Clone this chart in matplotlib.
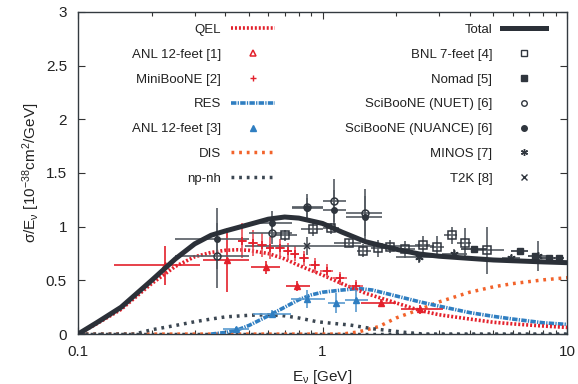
import numpy as np
import matplotlib
matplotlib.use("Agg")
import matplotlib.pyplot as plt
from matplotlib.lines import Line2D

plt.rcParams['font.family'] = ['Liberation Sans', 'DejaVu Sans']
plt.rcParams['mathtext.fontset'] = 'custom'
plt.rcParams['mathtext.rm'] = 'Liberation Sans'
plt.rcParams['mathtext.default'] = 'regular'

# ---------------- curves ----------------
E_total = [0.1, 0.12, 0.15, 0.2, 0.25, 0.3, 0.35, 0.4, 0.5, 0.6, 0.7, 0.8, 1.0, 1.2, 1.5, 2, 2.5, 3, 4, 5, 6, 8, 10]
total   = [0.0, 0.11, 0.25, 0.50, 0.70, 0.84, 0.92, 0.96, 1.02, 1.07, 1.09, 1.08, 1.03, 0.95, 0.86, 0.79, 0.745, 0.725, 0.705, 0.69, 0.683, 0.672, 0.665]

E_qel = [0.1, 0.12, 0.15, 0.2, 0.25, 0.3, 0.35, 0.4, 0.45, 0.5, 0.6, 0.7, 0.8, 1.0, 1.2, 1.5, 2, 2.5, 3, 4, 5, 6, 8, 10]
qel   = [0.0, 0.10, 0.23, 0.47, 0.63, 0.72, 0.76, 0.78, 0.785, 0.78, 0.75, 0.70, 0.64, 0.55, 0.47, 0.38, 0.29, 0.22, 0.18, 0.14, 0.11, 0.095, 0.075, 0.062]

E_res = [0.35, 0.4, 0.45, 0.5, 0.6, 0.7, 0.8, 0.9, 1.0, 1.2, 1.4, 1.6, 2.0, 2.5, 3, 4, 5, 6, 8, 10]
res   = [0.0, 0.015, 0.04, 0.08, 0.17, 0.25, 0.32, 0.365, 0.39, 0.41, 0.425, 0.41, 0.355, 0.30, 0.26, 0.20, 0.165, 0.14, 0.105, 0.09]

E_dis = [0.1, 1.2, 1.4, 1.7, 2.0, 2.5, 3, 4, 5, 6, 8, 10]
dis   = [0.0, 0.0, 0.02, 0.07, 0.15, 0.23, 0.30, 0.39, 0.44, 0.47, 0.505, 0.525]

E_npnh = [0.1, 0.17, 0.2, 0.25, 0.3, 0.35, 0.4, 0.5, 0.6, 0.7, 0.8, 0.95, 1.1, 1.3, 1.6, 1.8, 2.2, 2.6, 10]
npnh   = [0.0, 0.0, 0.04, 0.08, 0.115, 0.14, 0.16, 0.175, 0.18, 0.17, 0.15, 0.115, 0.10, 0.084, 0.05, 0.037, 0.015, 0.0, 0.0]

E_zero = [0.1, 10]
zero_line = [0.0, 0.0]

# ---------------- data ----------------
anl1_E   = [0.227, 0.406, 0.59, 0.79, 1.73, 2.5]
anl1_y   = [0.64, 0.69, 0.62, 0.447, 0.29, 0.23]
anl1_xlo = [0.14, 0.325, 0.51, 0.71, 1.43, 2.1]
anl1_xhi = [0.316, 0.50, 0.67, 0.89, 2.0, 3.1]
anl1_ye  = [0.18, 0.30, 0.06, 0.05, 0.04, 0.04]

mb_E  = [0.47, 0.52, 0.566, 0.61, 0.67, 0.72, 0.77, 0.84, 0.93, 1.04, 1.18, 1.37]
mb_y  = [0.87, 0.845, 0.83, 0.80, 0.80, 0.77, 0.75, 0.705, 0.643, 0.59, 0.52, 0.45]
mb_xe = [0.02, 0.025, 0.025, 0.025, 0.03, 0.03, 0.035, 0.04, 0.05, 0.06, 0.08, 0.1]
mb_ye = [0.16, 0.12, 0.11, 0.10, 0.09, 0.08, 0.07, 0.07, 0.07, 0.06, 0.06, 0.05]

anl3_E   = [0.443, 0.62, 0.86, 1.13, 1.37]
anl3_y   = [0.044, 0.19, 0.33, 0.29, 0.317]
anl3_xlo = [0.39, 0.52, 0.74, 1.05, 1.24]
anl3_xhi = [0.50, 0.74, 1.02, 1.24, 1.53]
anl3_ye  = [0.02, 0.03, 0.085, 0.09, 0.11]

bnl_E   = [0.70, 0.91, 1.08, 1.28, 1.47, 1.68, 1.89, 2.18, 2.58, 2.94, 3.38, 3.84, 4.7]
bnl_y   = [0.92, 0.975, 0.985, 0.85, 0.776, 0.80, 0.815, 0.79, 0.83, 0.815, 0.92, 0.85, 0.78]
bnl_xlo = [0.62, 0.82, 1.0, 1.11, 1.38, 1.58, 1.78, 2.0, 2.4, 2.75, 3.15, 3.55, 4.05]
bnl_xhi = [0.79, 1.0, 1.17, 1.43, 1.58, 1.78, 2.0, 2.4, 2.75, 3.15, 3.55, 4.05, 5.5]
bnl_ye  = [0.05, 0.06, 0.05, 0.04, 0.06, 0.08, 0.06, 0.08, 0.08, 0.10, 0.08, 0.14, 0.22]

nomad_E   = [4.17, 6.4, 7.4, 8.4, 9.3]
nomad_y   = [0.79, 0.77, 0.725, 0.705, 0.705]
nomad_xlo = [3.7, 5.9, 6.9, 7.9, 8.85]
nomad_xhi = [4.7, 6.9, 7.9, 8.9, 9.75]
nomad_ye  = [0.02, 0.02, 0.02, 0.02, 0.02]

sb_E      = [0.37, 0.62, 0.86, 1.11, 1.49]
sb_xlo    = [0.25, 0.5, 0.75, 1.0, 1.25]
sb_xhi    = [0.5, 0.75, 1.0, 1.25, 1.75]
nuet_y    = [0.73, 0.94, 1.18, 1.24, 1.13]
nuet_ye   = [0.30, 0.10, 0.12, 0.20, 0.22]
nuance_y  = [0.89, 1.03, 1.17, 1.16, 1.09]
nuance_ye = [0.28, 0.12, 0.10, 0.18, 0.20]

minos_E   = [2.47, 3.45, 5.9, 7.6]
minos_y   = [0.715, 0.75, 0.705, 0.73]
minos_xlo = [2.0, 3.07, 5.4, 7.0]
minos_xhi = [2.95, 3.9, 6.4, 8.2]
minos_ye  = [0.05, 0.04, 0.03, 0.14]

t2k_E   = [0.86]
t2k_y   = [0.82]
t2k_xlo = [0.48]
t2k_xhi = [2.85]
t2k_ye  = [0.085]

# ---------------- style ----------------
C_TOT = '#2b3038'
C_RED = '#e3202b'
C_BLUE = '#2f7ec1'
C_ORG = '#f2632b'
C_GRAY = '#3c4752'
C_DATA = '#30363e'

fig = plt.figure(figsize=(5.78, 3.84), dpi=100)
ax = fig.add_axes([0.135, 0.130, 0.846, 0.839])
ax.set_xscale('log')

ls_qel = (0, (0.55, 0.55))
ls_res = (0, (1.5, 0.35, 0.35, 0.35))
ls_dis = (0, (0.8, 1.4))
ls_np = (0, (0.8, 1.4))

ax.plot(E_zero, zero_line, color=C_GRAY, lw=2.5, ls=(0.9, (0.8, 1.4)), zorder=2)
ax.plot(E_dis, dis, color=C_ORG, lw=2.5, ls=ls_dis, zorder=2)
ax.plot(E_npnh, npnh, color=C_GRAY, lw=2.5, ls=ls_np, zorder=2)

def xe(E, lo, hi):
    E = np.asarray(E); return [E - np.asarray(lo), np.asarray(hi) - E]

ebkw = dict(ls='none', elinewidth=1.2, capsize=0)
ax.errorbar(anl1_E, anl1_y, xerr=xe(anl1_E, anl1_xlo, anl1_xhi), yerr=anl1_ye,
            marker='^', ms=5, color=C_RED, ecolor=C_RED, zorder=4, **ebkw)
ax.errorbar(mb_E, mb_y, xerr=mb_xe, yerr=mb_ye, marker='+', ms=6, mew=1.2,
            color=C_RED, ecolor='#ea4f58', zorder=4, **ebkw)
ax.errorbar(anl3_E, anl3_y, xerr=xe(anl3_E, anl3_xlo, anl3_xhi), yerr=anl3_ye,
            marker='^', ms=4, color=C_BLUE, ecolor='#5a9bd0', zorder=4, **ebkw)
ax.errorbar(sb_E, nuet_y, xerr=xe(sb_E, sb_xlo, sb_xhi), yerr=nuet_ye, marker='o', ms=5,
            mfc='none', mew=1.1, color=C_DATA, ecolor='#555b62', zorder=4, **ebkw)
ax.errorbar(sb_E, nuance_y, xerr=xe(sb_E, sb_xlo, sb_xhi), yerr=nuance_ye, marker='o', ms=4,
            color=C_DATA, ecolor='#555b62', zorder=4, **ebkw)
ax.errorbar(bnl_E, bnl_y, xerr=xe(bnl_E, bnl_xlo, bnl_xhi), yerr=bnl_ye, marker='s', ms=5.5,
            mfc='none', mew=1.1, color=C_DATA, ecolor='#555b62', zorder=4, **ebkw)
ax.errorbar(nomad_E, nomad_y, xerr=xe(nomad_E, nomad_xlo, nomad_xhi), yerr=nomad_ye, marker='s', ms=5,
            color=C_DATA, ecolor=C_DATA, zorder=4, **ebkw)
ax.errorbar(minos_E, minos_y, xerr=xe(minos_E, minos_xlo, minos_xhi), yerr=minos_ye, marker=(6, 2, 0), ms=6,
            mew=1.1, color=C_DATA, ecolor='#555b62', zorder=4, **ebkw)
ax.errorbar(t2k_E, t2k_y, xerr=xe(t2k_E, t2k_xlo, t2k_xhi), yerr=t2k_ye, marker='x', ms=5,
            mew=1.1, color=C_DATA, ecolor='#555b62', zorder=4, **ebkw)

ax.plot(E_res, res, color=C_BLUE, lw=2.6, ls=ls_res, zorder=3)
ax.plot(E_qel, qel, color=C_RED, lw=2.6, ls=ls_qel, zorder=3)
ax.plot(E_total, total, color=C_TOT, lw=3.6, solid_capstyle='round', zorder=5)

ax.set_xlim(0.1, 10)
ax.set_ylim(0, 3)
ax.set_xticks([0.1, 1, 10])
ax.set_xticklabels(['0.1', '1', '10'])
ax.xaxis.set_minor_formatter(matplotlib.ticker.NullFormatter())
ax.set_yticks([0, 0.5, 1, 1.5, 2, 2.5, 3])
ax.set_yticklabels(['0', '0.5', '1', '1.5', '2', '2.5', '3'])
ax.tick_params(which='both', direction='in', top=True, right=True, labelsize=11, color='#333', colors='#222')
ax.tick_params(which='major', length=5, width=0.8, pad=8)
ax.tick_params(which='minor', length=3, width=0.8)
for s in ax.spines.values():
    s.set_color('#333a40'); s.set_linewidth(1.0)

ax.set_xlabel('E$_{ν}$ [GeV]', fontsize=11, labelpad=6, color='#222')
ax.set_ylabel('σ/E$_{ν}$ [10$^{-38}$cm$^2$/GeV]', fontsize=11, labelpad=3, color='#222')

# ---------------- legends ----------------
h_left = [
    Line2D([], [], color=C_RED, lw=2.6, ls=ls_qel),
    Line2D([], [], ls='none', marker='^', ms=4.5, mfc='none', mec=C_RED, mew=1.1),
    Line2D([], [], ls='none', marker='+', ms=5, mew=1.0, color=C_RED),
    Line2D([], [], color=C_BLUE, lw=2.6, ls=ls_res),
    Line2D([], [], ls='none', marker='^', ms=4, color=C_BLUE),
    Line2D([], [], color=C_ORG, lw=2.5, ls=ls_dis),
    Line2D([], [], color=C_GRAY, lw=2.5, ls=ls_np),
]
l_left = ['QEL', 'ANL 12-feet [1]', 'MiniBooNE [2]', 'RES', 'ANL 12-feet [3]', 'DIS', 'np-nh']
h_right = [
    Line2D([], [], color=C_TOT, lw=3.6),
    Line2D([], [], ls='none', marker='s', ms=4.5, mfc='none', mec=C_DATA, mew=1.0),
    Line2D([], [], ls='none', marker='s', ms=4.5, color=C_DATA),
    Line2D([], [], ls='none', marker='o', ms=4, mfc='none', mec=C_DATA, mew=1.0),
    Line2D([], [], ls='none', marker='o', ms=4, color=C_DATA),
    Line2D([], [], ls='none', marker=(6, 2, 0), ms=5, mew=1.0, color=C_DATA),
    Line2D([], [], ls='none', marker='x', ms=4.5, mew=1.0, color=C_DATA),
]
l_right = ['Total', 'BNL 7-feet [4]', 'Nomad [5]', 'SciBooNE (NUET) [6]', 'SciBooNE (NUANCE) [6]', 'MINOS [7]', 'T2K [8]']

fs_leg = 9.5
lkw = dict(markerfirst=False, frameon=False, fontsize=fs_leg, handlelength=3.35,
           handletextpad=0.75, labelspacing=0.95, borderaxespad=0, borderpad=0,
           labelcolor='#222')
leg1 = ax.legend(h_left, l_left, loc='upper right', bbox_to_anchor=(0.403, 0.963), **lkw)
ax.add_artist(leg1)
leg2 = ax.legend(h_right, l_right, loc='upper right', bbox_to_anchor=(0.958, 0.963), **lkw)

fig.savefig('out.png', dpi=100)
